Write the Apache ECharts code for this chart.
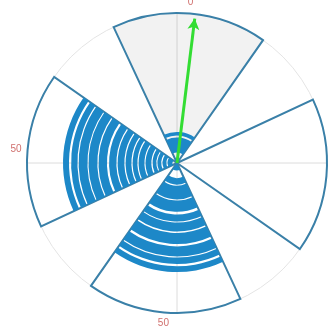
<!DOCTYPE html>
<html>
<head>
<meta charset="utf-8">
<script src="https://cdn.jsdelivr.net/npm/echarts@6/dist/echarts.min.js"></script>
<style>html,body{margin:0;padding:0;background:#fff}#main{width:335px;height:336px}</style>
</head>
<body>
<div id="main"></div>
<script>
// 方向标签(扇区中心)
var dirLabels = ['0', '', '50', '50'];
// 扇区角度 (顺时针, 0 = 正上方)
var sectorFrom = [-25, 65, 155, 245];
var sectorTo = [35, 125, 215, 305];
var sectorLen = [100, 100, 100, 100];
// 各扇区蓝色环带 [内半径, 外半径]
var ringsTop = [[0, 3], [7, 17], [18.3, 20.7]];
var ringsRight = [];
var ringsBottom = [[0, 5], [10, 14.3], [15, 24.3], [25, 32.5], [34.3, 39], [39.7, 45.6],
    [46.6, 54], [55.6, 62.3], [63, 67.3], [68.8, 72.7]];
var ringsLeft = [[3, 6.3], [7, 9.6], [10.4, 13], [13.7, 16.3], [17.1, 21], [21.7, 25.6],
    [26.4, 29.6], [30.4, 34.3], [35.1, 39.6], [40.4, 45.3], [46.7, 52.3], [53.1, 59],
    [59.7, 65.6], [66.4, 70.6], [72, 76]];
// 箭头
var arrowAngle = 7;
var arrowLen = 97;

var ringSets = [ringsTop, ringsRight, ringsBottom, ringsLeft];
var sectorData = [];
var ringData = [];
for (var i = 0; i < sectorFrom.length; i++) {
    sectorData.push([sectorFrom[i], sectorTo[i], 0, sectorLen[i]]);
    ringSets[i].forEach(function (r) {
        ringData.push([sectorFrom[i], sectorTo[i], r[0], r[1]]);
    });
}

function sectorShape(params, api) {
    var a0 = api.value(0), a1 = api.value(1);
    var pIn = api.coord([api.value(2), a0]);
    var pOut = api.coord([api.value(3), a0]);
    var pEnd = api.coord([api.value(3), a1]);
    return {
        cx: params.coordSys.cx,
        cy: params.coordSys.cy,
        r0: pIn[2],
        r: pOut[2],
        startAngle: -pOut[3],
        endAngle: -pEnd[3],
        clockwise: true
    };
}

var chart = echarts.init(document.getElementById('main'));
var option = {
    animation: false,
    polar: [
        {center: [177, 163], radius: 150},
        {center: [177, 163], radius: 150}
    ],
    angleAxis: [
        {
            polarIndex: 0,
            type: 'value',
            min: 0,
            max: 360,
            interval: 90,
            startAngle: 90,
            clockwise: true,
            axisLine: {lineStyle: {color: '#e4e4e4', width: 1}},
            axisTick: {show: false},
            axisLabel: {show: false},
            splitLine: {lineStyle: {color: '#dcdcdc', width: 1}}
        },
        {
            polarIndex: 1,
            type: 'category',
            data: dirLabels,
            startAngle: 130,
            clockwise: true,
            axisLine: {show: false},
            axisTick: {show: false},
            splitLine: {show: false},
            axisLabel: {color: '#d0706e', fontSize: 10, margin: 6}
        }
    ],
    radiusAxis: [
        {polarIndex: 0, type: 'value', min: 0, max: 100, show: false},
        {polarIndex: 1, type: 'value', min: 0, max: 100, show: false}
    ],
    series: [
        {
            type: 'custom',
            coordinateSystem: 'polar',
            polarIndex: 0,
            data: sectorData,
            renderItem: function (params, api) {
                return {
                    type: 'sector',
                    shape: sectorShape(params, api),
                    style: {
                        fill: params.dataIndex === 0 ? 'rgba(0,0,0,0.05)' : 'rgba(255,255,255,0)',
                        stroke: '#3a80a8',
                        lineWidth: 2
                    }
                };
            }
        },
        {
            type: 'custom',
            coordinateSystem: 'polar',
            polarIndex: 0,
            data: ringData,
            z: 3,
            renderItem: function (params, api) {
                return {
                    type: 'sector',
                    shape: sectorShape(params, api),
                    style: {fill: '#1d88c8'}
                };
            }
        },
        {
            type: 'line',
            coordinateSystem: 'polar',
            polarIndex: 0,
            z: 5,
            lineStyle: {color: '#33dd33', width: 3},
            itemStyle: {color: '#33dd33'},
            data: [
                {value: [0, arrowAngle], symbol: 'none'},
                {value: [arrowLen, arrowAngle], symbol: 'arrow', symbolSize: [9, 11], symbolRotate: -arrowAngle}
            ]
        }
    ]
};
chart.setOption(option);
</script>
</body>
</html>
